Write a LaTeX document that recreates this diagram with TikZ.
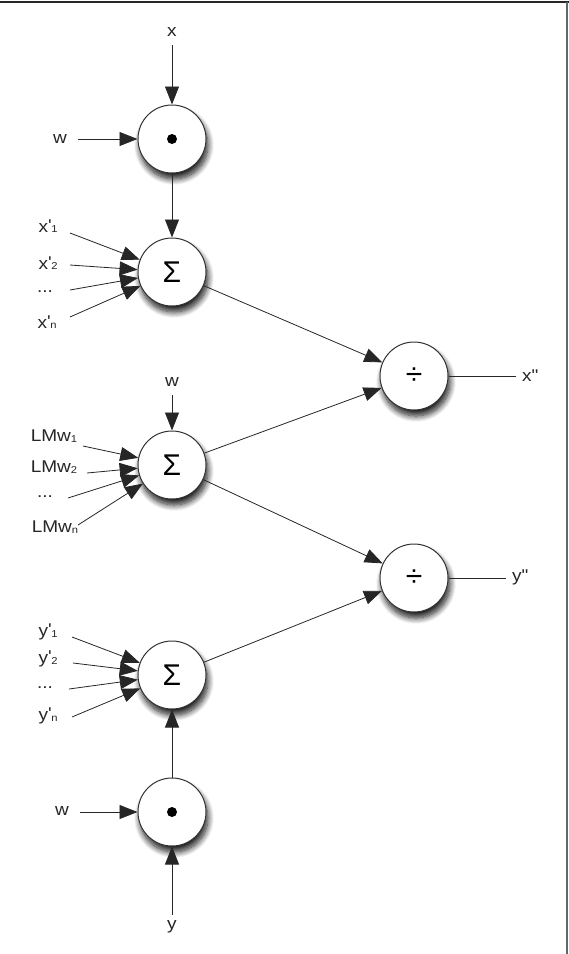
\documentclass[tikz,border=0pt]{standalone}
\usepackage{fontspec}
\setmainfont{Liberation Sans}
\newfontfamily\lblfont[FakeStretch=1.12]{Liberation Sans}
\usetikzlibrary{arrows.meta,shadows,shadows.blur}
\newcommand{\idx}[1]{\raisebox{-0.5pt}{\fontsize{10}{10}\selectfont #1}}
\newcommand{\prm}{\raisebox{1pt}{\textquotesingle}}
\begin{document}
\begin{tikzpicture}[x=1pt,y=-1pt,
  unit/.style={circle,draw=black!80,line width=1pt,fill=white,minimum size=68pt,inner sep=0pt,
    blur shadow={shadow xshift=2pt,shadow yshift=-6pt,shadow blur steps=12,shadow blur radius=6pt,shadow opacity=90}},
  lbl/.style={inner sep=1pt,font=\lblfont\fontsize{17}{19}\selectfont,text=black!85},
  op/.style={font=\fontsize{30}{32}\selectfont},
  conn/.style={draw=black!85,line width=0.8pt,-{Triangle[length=18pt,width=14pt]}},
  plain/.style={draw=black!85,line width=0.8pt}]
\useasboundingbox (0,0) rectangle (569,954);
% frame edges
\draw[line width=2pt,black!85] (0,2) -- (569,2);
\draw[line width=2pt,black!60] (567,2) -- (567,954);

% operation units
\node[unit] (dotx) at (172,139) {};
\fill (dotx.center) circle (5pt);
\node[unit,op] (sx) at (172,272) {Σ};
\node[unit,op] (sw) at (172,465) {Σ};
\node[unit,op] (sy) at (172,675) {Σ};
\node[unit] (doty) at (172,812) {};
\fill (doty.center) circle (5pt);
\node[unit,op] (divx) at (414,376) {÷};
\node[unit,op] (divy) at (414,578) {÷};

% inputs of the x product
\node[lbl] (x) at (172,32) {x};
\node[lbl] (wx) at (60,139) {w};
\coordinate (xs) at (172,45);
\coordinate (wxs) at (78,139);
\draw[conn] (xs) -- (dotx);
\draw[conn] (wxs) -- (dotx);
\draw[conn] (dotx) -- (sx);

% x' sums
\node[lbl] (xa) at (48,226) {x\prm\idx{1}};
\node[lbl] (xb) at (48,263) {x\prm\idx{2}};
\node[lbl] (xc) at (45,292) {...};
\node[lbl] (xd) at (47,322) {x\prm\idx{n}};
\coordinate (xas) at (70,233);
\coordinate (xbs) at (70,265);
\coordinate (xcs) at (70,290);
\coordinate (xds) at (70,317);
\foreach \s in {xas,xbs,xcs,xds} \draw[conn] (\s) -- (sx);

% weight sums
\node[lbl] (ww) at (172,382) {w};
\coordinate (wws) at (172,395);
\draw[conn] (wws) -- (sw);
\node[lbl] (la) at (54,436) {LMw\idx{1}};
\node[lbl] (lb) at (54,467) {LMw\idx{2}};
\node[lbl] (lc) at (45,497) {...};
\node[lbl] (ld) at (55,527) {LMw\idx{n}};
\coordinate (las) at (83,446);
\coordinate (lbs) at (87,473);
\coordinate (lcs) at (68,498);
\coordinate (lds) at (78,525);
\foreach \s in {las,lbs,lcs,lds} \draw[conn] (\s) -- (sw);

% y' sums
\node[lbl] (ya) at (48,632) {y\prm\idx{1}};
\node[lbl] (yb) at (48,659) {y\prm\idx{2}};
\node[lbl] (yc) at (45,688) {...};
\node[lbl] (yd) at (48,716) {y\prm\idx{n}};
\coordinate (yas) at (72,637);
\coordinate (ybs) at (73,663);
\coordinate (ycs) at (69,689);
\coordinate (yds) at (72,717);
\foreach \s in {yas,ybs,ycs,yds} \draw[conn] (\s) -- (sy);

% inputs of the y product
\node[lbl] (wy) at (62,811) {w};
\node[lbl] (y) at (172,927) {y};
\coordinate (wys) at (80,812);
\coordinate (ys) at (172,915);
\draw[conn] (wys) -- (doty);
\draw[conn] (ys) -- (doty);
\draw[conn] (doty) -- (sy);

% divisions
\draw[conn] (sx) -- (divx);
\draw[conn] (sw) -- (divx);
\draw[conn] (sw) -- (divy);
\draw[conn] (sy) -- (divy);

% outputs
\node[lbl,anchor=west] (xo) at (521,376) {x\textquotedbl};
\node[lbl,anchor=west] (yo) at (511,577) {y\textquotedbl};
\coordinate (xoe) at (516,376);
\coordinate (yoe) at (506,578);
\draw[plain] (divx) -- (xoe);
\draw[plain] (divy) -- (yoe);
\end{tikzpicture}
\end{document}
